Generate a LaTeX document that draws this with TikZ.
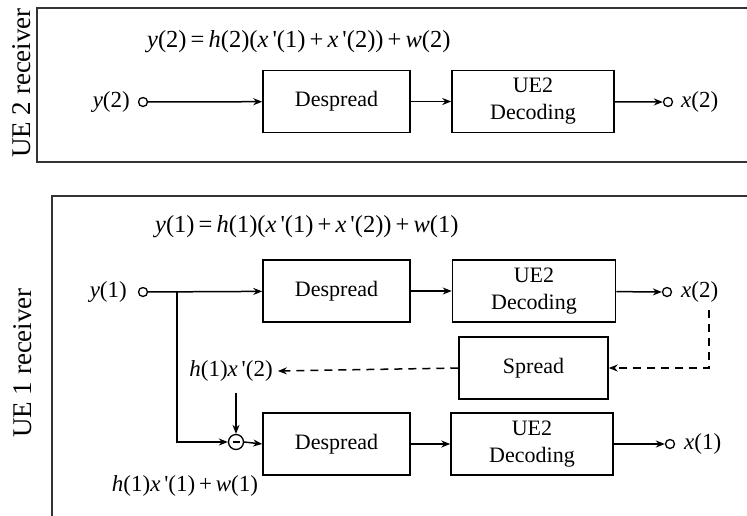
\documentclass[tikz,border=0pt]{standalone}
\usepackage{fontspec}
\setmainfont{Liberation Serif}
\usetikzlibrary{arrows.meta}
\newcommand{\vi}[1]{\textit{#1}}
\newcommand{\pr}{\,\textquotesingle}
\tikzset{
  blk/.style={draw, line width=1.5pt, minimum height=62pt, align=center, inner sep=0pt,
    font=\fontsize{22}{27}\selectfont},
  port/.style={draw, circle, line width=1.3pt, minimum size=9pt, inner sep=0pt},
  lab/.style={inner sep=0pt, font=\fontsize{23}{26}\selectfont},
  eqn/.style={inner sep=0pt, font=\fontsize{24.5}{28}\selectfont},
  side/.style={inner sep=0pt, rotate=90, font=\fontsize{27}{30}\selectfont},
  frame/.style={line width=1.8pt, draw=black!80},
  conn/.style={line width=1.5pt, -{Stealth[length=9pt,width=7pt]}},
  dconn/.style={conn, dash pattern=on 8pt off 6pt},
  minusc/.style={draw, circle, line width=1.3pt, minimum size=15pt, inner sep=0pt}
}
\begin{document}
\begin{tikzpicture}[x=1pt,y=-1pt]
\useasboundingbox (0,0) rectangle (747,515);
% frames
\draw[frame] (750,8) -- (37,8) -- (37,162) -- (750,162);
\draw[frame] (750,196) -- (52,196) -- (52,520);
\node[side] (ue2) at (22,83) {UE 2 receiver};
\node[side] (ue1) at (23,363) {UE 1 receiver};
% top
\node[eqn, anchor=west] (eq2) at (147,42) {\vi{y}(2)\,=\,\vi{h}(2)(\vi{x}\pr(1)\,+\,\vi{x}\pr(2))\,+\,\vi{w}(2)};
\node[port] (in2) at (143,102) {};
\node[lab, anchor=east] (y2) at (130,102) {\vi{y}(2)};
\node[blk, minimum width=147pt] (desp2) at (336.5,101.5) {Despread};
\node[blk, minimum width=162pt] (dec2) at (533,101.5) {UE2\\Decoding};
\node[port] (out2) at (668,102) {};
\node[lab, anchor=west] (x2t) at (681,102) {\vi{x}(2)};
\draw[conn] (in2) -- (desp2);
\draw[conn] (desp2) -- (dec2);
\draw[conn] (dec2) -- (out2);
% bottom
\node[eqn, anchor=west] (eq1) at (155,227) {\vi{y}(1)\,=\,\vi{h}(1)(\vi{x}\pr(1)\,+\,\vi{x}\pr(2))\,+\,\vi{w}(1)};
\node[port] (in1) at (143,292) {};
\node[lab, anchor=east] (y1) at (127,292) {\vi{y}(1)};
\coordinate (br) at (177,292);
\node[blk, minimum width=147pt] (desp1a) at (336.5,291) {Despread};
\node[blk, minimum width=163pt] (dec1a) at (534,291) {UE2\\Decoding};
\node[port] (out1a) at (667,292) {};
\node[lab, anchor=west] (x2b) at (681,292) {\vi{x}(2)};
\node[blk, minimum width=149pt] (spread) at (533.5,368) {Spread};
\node[lab] (hx2) at (231,371) {\vi{h}(1)\vi{x}\pr(2)};
\node[minusc] (sub) at (236,442) {};
\draw[line width=1.3pt] ([xshift=-3.5pt]sub.center) -- ([xshift=3.5pt]sub.center);
\node[blk, minimum width=147pt] (desp1b) at (336.5,444) {Despread};
\node[blk, minimum width=162pt] (dec1b) at (532,444) {UE2\\Decoding};
\node[port] (out1b) at (670,444) {};
\node[lab, anchor=west] (x1t) at (684,444) {\vi{x}(1)};
\node[lab] (hx1w) at (185,486) {\vi{h}(1)\vi{x}\pr(1)\,+\,\vi{w}(1)};
\coordinate (dtop) at (709,310);
\coordinate (dcorner) at (709,368);
\draw[conn] (in1) -- (desp1a);
\draw[conn] (desp1a) -- (dec1a);
\draw[conn] (dec1a) -- (out1a);
\draw[dconn] (dtop) -- (dcorner) -- (spread.east);
\draw[dconn] (spread.west) -- ([xshift=5pt]hx2.east);
\draw[conn] ([yshift=-11pt]hx2.south -| sub.north) -- (sub.north);
\draw[conn] (br) |- (sub.west);
\draw[conn] (sub.east) -- (desp1b.west);
\draw[conn] (desp1b) -- (dec1b);
\draw[conn] (dec1b) -- (out1b);
\end{tikzpicture}
\end{document}
